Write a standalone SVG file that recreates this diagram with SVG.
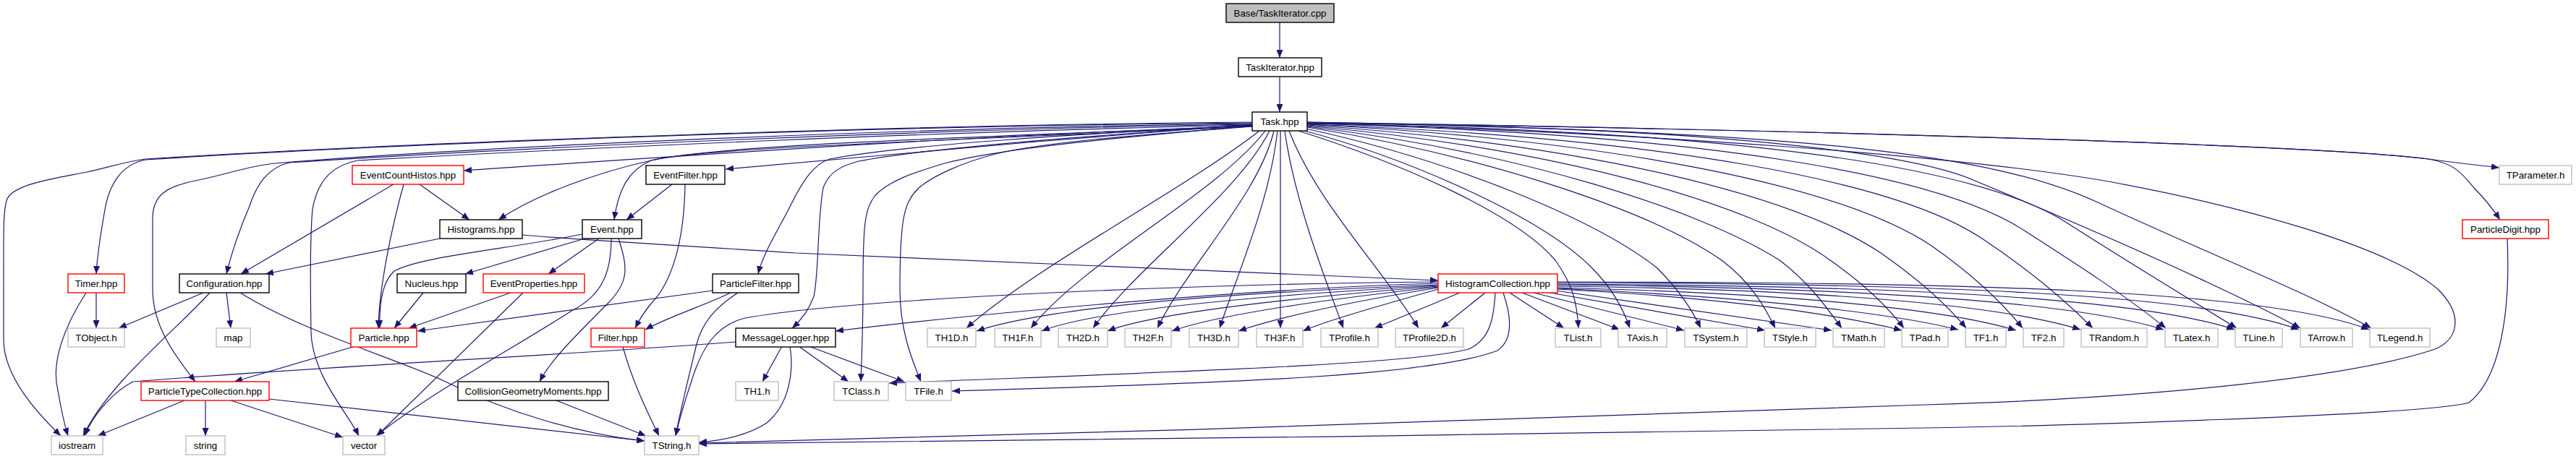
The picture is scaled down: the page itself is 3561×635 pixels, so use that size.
<svg xmlns="http://www.w3.org/2000/svg" width="3561" height="635" viewBox="0 0 3561 635">
<style>
text{font-family:"Liberation Sans",Arial,Helvetica,sans-serif;font-size:13.3px;fill:#000;text-anchor:middle}
rect{fill:#fff;stroke-width:1.4}
.k rect{stroke:#000}
.r rect{stroke:#ff0000}
.g rect{stroke:#bfbfbf}
.root rect{fill:#bfbfbf;stroke:#000}
#edges path{fill:none;stroke:#191970;stroke-width:1.2;marker-end:url(#ah)}
</style>
<defs>
<marker id="ah" markerWidth="11" markerHeight="9" refX="11" refY="4.5" orient="auto" markerUnits="userSpaceOnUse"><path d="M0,0 L11,4.5 L0,9 z" fill="#191970" stroke="none"/></marker>
</defs>
<rect x="0" y="0" width="3561" height="635" style="fill:#fff;stroke:none"/>
<g id="edges">
<path d="M1769,31 L1769,80"/>
<path d="M1769,106 L1769,155"/>
<!-- Task to left -->
<path d="M1731,169 C1300,172 600,195 201,220 C170,224 150,232 120,238 C70,248 20,255 10,275 C4,290 5,320 5,400 L5,470 C5,520 50,570 84,603"/>
<path d="M1731,170 C1300,173 600,195 201,221 C165,228 150,260 145,290 C138,330 134,360 133,379"/>
<path d="M1731,171 C1300,176 700,200 380,226 C340,230 320,240 270,250 C230,258 212,270 211,300 L211,400 C211,450 240,490 270,528"/>
<path d="M1731,172 C1300,178 700,205 400,225 C370,232 355,255 345,285 C330,320 320,350 313,379"/>
<path d="M1731,173 C1300,182 800,205 494,222 C470,227 440,240 432,290 C428,330 429,400 430,460 C432,520 480,570 496,603"/>
<path d="M1731,174 C1300,190 1000,212 641,236"/>
<path d="M1731,174 C1300,192 1000,200 900,222 C820,240 740,270 689,304"/>
<path d="M1731,175 C1300,195 960,205 900,222 C870,235 855,260 849,304"/>
<path d="M1731,172 C1500,190 1200,215 1003,234"/>
<path d="M1731,173 C1500,185 1250,200 1147,220 C1125,227 1110,250 1095,280 C1075,320 1055,350 1048,379"/>
<path d="M1731,173 C1500,188 1280,205 1187,223 C1160,230 1145,240 1138,260 C1130,300 1132,380 1125,410 C1118,430 1105,445 1095,454"/>
<path d="M1731,174 C1550,190 1380,205 1302,227 C1260,240 1230,250 1210,270 C1195,290 1193,310 1193,400 C1193,450 1191,500 1190,528"/>
<path d="M1731,175 C1600,185 1450,195 1376,213 C1330,225 1290,243 1270,260 C1250,280 1244,300 1244,400 C1244,460 1262,500 1273,528"/>
<!-- Task downward -->
<path d="M1741,181 C1640,260 1430,370 1336,454"/>
<path d="M1749,181 C1680,270 1500,360 1425,454"/>
<path d="M1755,181 C1710,270 1570,370 1511,454"/>
<path d="M1761,181 C1740,270 1640,370 1600,454"/>
<path d="M1766,181 C1755,280 1710,380 1686,454"/>
<path d="M1770,181 L1770,454"/>
<path d="M1776,181 C1790,280 1830,380 1857,454"/>
<path d="M1782,181 C1820,280 1910,370 1961,454"/>
<!-- Task to right -->
<path d="M1795,181 C1950,230 2100,300 2150,360 C2175,395 2180,420 2182,454"/>
<path d="M1800,180 C1950,220 2130,300 2200,370 C2230,400 2245,430 2253,454"/>
<path d="M1805,178 C2000,220 2200,300 2290,370 C2320,400 2340,430 2351,454"/>
<path d="M1807,176 C2050,215 2280,290 2380,360 C2420,390 2440,425 2454,454"/>
<path d="M1807,175 C2100,210 2350,290 2460,360 C2500,390 2525,425 2546,454"/>
<path d="M1807,174 C2150,205 2420,280 2530,360 C2580,395 2610,425 2632,454"/>
<path d="M1807,173 C2200,200 2480,270 2600,350 C2650,385 2690,420 2718,454"/>
<path d="M1807,172 C2250,195 2550,260 2670,340 C2720,375 2765,415 2796,454"/>
<path d="M1807,172 C2300,190 2620,250 2740,330 C2800,370 2850,410 2893,454"/>
<path d="M1807,171 C2350,185 2680,240 2800,320 C2870,365 2940,410 2994,454"/>
<path d="M1807,171 C2400,180 2740,230 2860,310 C2930,355 3020,410 3092,454"/>
<path d="M1807,170 C2400,176 2650,215 2730,250 C2850,300 3060,390 3180,454"/>
<path d="M1807,170 C2500,180 2760,215 2900,280 C3050,350 3180,400 3278,454"/>
<path d="M1807,170 C2300,185 2700,215 2909,250 C3100,285 3300,340 3370,400 C3410,440 3395,475 3360,485 C3250,520 3000,550 2661,560 C2300,575 1500,600 966,613"/>
<path d="M1807,169 C2500,180 3200,200 3357,220 C3400,226 3430,229 3455,232"/>
<path d="M1807,169 C2500,180 3200,200 3357,220 C3390,226 3400,235 3420,260 C3440,280 3450,295 3456,304"/>
<!-- EventCountHistos -->
<path d="M544,255 L333,379"/>
<path d="M558,255 C540,320 524,400 523,454"/>
<path d="M580,255 L649,304"/>
<!-- Histograms -->
<path d="M608,330 L367,379"/>
<path d="M722,325 C800,332 900,337 1100,350 C1500,368 1800,380 1988,388"/>
<!-- Event -->
<path d="M805,324 C700,345 580,355 545,375 C528,390 524,420 525,454"/>
<path d="M805,331 L643,379"/>
<path d="M828,330 L758,379"/>
<path d="M845,330 C845,380 830,410 790,430 C730,470 600,540 520,603"/>
<path d="M855,330 C868,370 870,390 840,420 C790,470 760,500 746,528"/>
<!-- EventFilter -->
<path d="M929,255 L866,304"/>
<path d="M947,255 C946,330 930,390 900,420 C890,432 884,442 878,454"/>
<!-- ParticleFilter -->
<path d="M1010,405 C980,420 920,440 892,456"/>
<path d="M985,402 L577,458"/>
<path d="M1020,405 C990,425 970,445 962,480 C950,530 940,570 934,603"/>
<!-- Filter -->
<path d="M861,480 C875,530 895,570 911,603"/>
<!-- Nucleus, EventProperties -->
<path d="M585,405 L545,454"/>
<path d="M706,405 L565,454"/>
<path d="M723,405 L521,603"/>
<!-- Particle -->
<path d="M491,479 L324,528"/>
<!-- Configuration -->
<path d="M281,405 L164,454"/>
<path d="M290,405 C240,460 150,530 115,603"/>
<path d="M313,405 L319,454"/>
<path d="M332,405 C420,460 560,500 620,530 C700,570 800,600 891,610"/>
<!-- Timer -->
<path d="M119,405 C90,450 70,500 80,540 C85,570 90,590 94,603"/>
<path d="M133,405 L133,454"/>
<!-- ParticleTypeCollection -->
<path d="M255,554 L135,603"/>
<path d="M284,554 L284,603"/>
<path d="M319,554 L474,605"/>
<path d="M372,552 L891,610"/>
<!-- CollisionGeometryMoments -->
<path d="M769,554 L893,603"/>
<!-- MessageLogger -->
<path d="M1017,473 C800,490 400,510 184,528 C160,540 130,570 117,603"/>
<path d="M1081,479 L1054,528"/>
<path d="M1104,479 L1173,528"/>
<path d="M1118,479 L1250,528"/>
<path d="M1092,479 C1098,517 1090,560 1060,585 C1030,605 990,610 966,612"/>
<!-- HistogramCollection -->
<path d="M1988,392 C1700,400 1300,440 1155,458"/>
<path d="M1988,394 C1700,405 1450,425 1350,458"/>
<path d="M1988,395 C1720,410 1510,430 1440,458"/>
<path d="M1988,396 C1750,415 1590,435 1531,458"/>
<path d="M1988,397 C1780,420 1670,440 1620,458"/>
<path d="M1988,398 C1820,425 1750,445 1712,458"/>
<path d="M1988,400 C1900,425 1830,445 1801,458"/>
<path d="M1988,390 C1700,392 1200,410 1030,440 C990,450 970,480 955,530 C945,560 938,585 934,603"/>
<path d="M2018,405 L1900,454"/>
<path d="M2053,405 L1992,454"/>
<path d="M2067,405 C2065,440 2060,470 2030,483 C1950,505 1600,515 1229,530"/>
<path d="M2078,405 C2090,440 2092,470 2070,485 C1980,520 1700,530 1316,541"/>
<path d="M2087,405 L2162,454"/>
<path d="M2104,405 L2239,456"/>
<path d="M2120,405 L2328,457"/>
<path d="M2137,404 L2440,457"/>
<path d="M2150,402 L2532,457"/>
<path d="M2153,400 C2350,410 2520,430 2629,457"/>
<path d="M2153,399 C2400,410 2600,430 2707,456"/>
<path d="M2153,398 C2450,405 2680,425 2787,457"/>
<path d="M2153,396 C2500,400 2760,420 2876,456"/>
<path d="M2153,394 C2550,398 2860,415 2991,456"/>
<path d="M2153,393 C2600,395 2950,410 3089,456"/>
<path d="M2153,391 C2650,392 3040,405 3178,456"/>
<path d="M2153,390 C2700,390 3130,400 3275,456"/>
<!-- ParticleDigit -->
<path d="M3466,330 C3470,420 3460,520 3413,557 C3350,575 2800,590 2661,592 C2200,600 1400,610 966,614"/>
</g>
<g id="n_root" class="root"><rect x="1695" y="5" width="149" height="26"/><text x="1769.5" y="23">Base/TaskIterator.cpp</text></g>
<g id="n_taskiterator" class="k"><rect x="1712" y="80" width="115" height="26"/><text x="1769.5" y="98">TaskIterator.hpp</text></g>
<g id="n_task" class="k"><rect x="1731" y="155" width="76" height="26"/><text x="1769" y="173">Task.hpp</text></g>
<g id="n_eventcounthistos" class="r"><rect x="487" y="229" width="154" height="26"/><text x="564" y="247">EventCountHistos.hpp</text></g>
<g id="n_eventfilter" class="k"><rect x="893" y="229" width="109" height="26"/><text x="947.5" y="247">EventFilter.hpp</text></g>
<g id="n_tparameter" class="g"><rect x="3455" y="229" width="100" height="26"/><text x="3505" y="247">TParameter.h</text></g>
<g id="n_histograms" class="k"><rect x="608" y="304" width="114" height="26"/><text x="665" y="322">Histograms.hpp</text></g>
<g id="n_event" class="k"><rect x="805" y="304" width="82" height="26"/><text x="846" y="322">Event.hpp</text></g>
<g id="n_particledigit" class="r"><rect x="3404" y="304" width="119" height="26"/><text x="3463.5" y="322">ParticleDigit.hpp</text></g>
<g id="n_timer" class="r"><rect x="94" y="379" width="78" height="26"/><text x="133" y="397">Timer.hpp</text></g>
<g id="n_configuration" class="k"><rect x="248" y="379" width="124" height="26"/><text x="310" y="397">Configuration.hpp</text></g>
<g id="n_nucleus" class="k"><rect x="549" y="379" width="95" height="26"/><text x="596.5" y="397">Nucleus.hpp</text></g>
<g id="n_eventproperties" class="r"><rect x="668" y="379" width="140" height="26"/><text x="738" y="397">EventProperties.hpp</text></g>
<g id="n_particlefilter" class="k"><rect x="985" y="379" width="119" height="26"/><text x="1044.5" y="397">ParticleFilter.hpp</text></g>
<g id="n_histogramcollection" class="r"><rect x="1988" y="379" width="165" height="26"/><text x="2070.5" y="397">HistogramCollection.hpp</text></g>
<g id="n_tobject" class="g"><rect x="94" y="454" width="78" height="26"/><text x="133" y="472">TObject.h</text></g>
<g id="n_map" class="g"><rect x="299" y="454" width="47" height="26"/><text x="322.5" y="472">map</text></g>
<g id="n_particle" class="r"><rect x="485" y="454" width="91" height="26"/><text x="530.5" y="472">Particle.hpp</text></g>
<g id="n_filter" class="r"><rect x="817" y="454" width="74" height="26"/><text x="854" y="472">Filter.hpp</text></g>
<g id="n_messagelogger" class="k"><rect x="1017" y="454" width="138" height="26"/><text x="1086" y="472">MessageLogger.hpp</text></g>
<g id="n_th1d" class="g"><rect x="1282" y="454" width="67" height="26"/><text x="1315.5" y="472">TH1D.h</text></g>
<g id="n_th1f" class="g"><rect x="1375" y="454" width="64" height="26"/><text x="1407" y="472">TH1F.h</text></g>
<g id="n_th2d" class="g"><rect x="1463" y="454" width="68" height="26"/><text x="1497" y="472">TH2D.h</text></g>
<g id="n_th2f" class="g"><rect x="1555" y="454" width="64" height="26"/><text x="1587" y="472">TH2F.h</text></g>
<g id="n_th3d" class="g"><rect x="1644" y="454" width="68" height="26"/><text x="1678" y="472">TH3D.h</text></g>
<g id="n_th3f" class="g"><rect x="1737" y="454" width="64" height="26"/><text x="1769" y="472">TH3F.h</text></g>
<g id="n_tprofile" class="g"><rect x="1826" y="454" width="79" height="26"/><text x="1865.5" y="472">TProfile.h</text></g>
<g id="n_tprofile2d" class="g"><rect x="1929" y="454" width="94" height="26"/><text x="1976" y="472">TProfile2D.h</text></g>
<g id="n_tlist" class="g"><rect x="2150" y="454" width="63" height="26"/><text x="2181.5" y="472">TList.h</text></g>
<g id="n_taxis" class="g"><rect x="2237" y="454" width="67" height="26"/><text x="2270.5" y="472">TAxis.h</text></g>
<g id="n_tsystem" class="g"><rect x="2329" y="454" width="86" height="26"/><text x="2372" y="472">TSystem.h</text></g>
<g id="n_tstyle" class="g"><rect x="2439" y="454" width="71" height="26"/><text x="2474.5" y="472">TStyle.h</text></g>
<g id="n_tmath" class="g"><rect x="2534" y="454" width="71" height="26"/><text x="2569.5" y="472">TMath.h</text></g>
<g id="n_tpad" class="g"><rect x="2629" y="454" width="64" height="26"/><text x="2661" y="472">TPad.h</text></g>
<g id="n_tf1" class="g"><rect x="2717" y="454" width="56" height="26"/><text x="2745" y="472">TF1.h</text></g>
<g id="n_tf2" class="g"><rect x="2797" y="454" width="56" height="26"/><text x="2825" y="472">TF2.h</text></g>
<g id="n_trandom" class="g"><rect x="2877" y="454" width="91" height="26"/><text x="2922.5" y="472">TRandom.h</text></g>
<g id="n_tlatex" class="g"><rect x="2993" y="454" width="73" height="26"/><text x="3029.5" y="472">TLatex.h</text></g>
<g id="n_tline" class="g"><rect x="3090" y="454" width="65" height="26"/><text x="3122.5" y="472">TLine.h</text></g>
<g id="n_tarrow" class="g"><rect x="3180" y="454" width="72" height="26"/><text x="3216" y="472">TArrow.h</text></g>
<g id="n_tlegend" class="g"><rect x="3276" y="454" width="83" height="26"/><text x="3317.5" y="472">TLegend.h</text></g>
<g id="n_particletypecollection" class="r"><rect x="195" y="528" width="177" height="26"/><text x="283.5" y="546">ParticleTypeCollection.hpp</text></g>
<g id="n_collisiongeometrymoments" class="k"><rect x="633" y="528" width="208" height="26"/><text x="737" y="546">CollisionGeometryMoments.hpp</text></g>
<g id="n_th1" class="g"><rect x="1017" y="528" width="59" height="26"/><text x="1046.5" y="546">TH1.h</text></g>
<g id="n_tclass" class="g"><rect x="1153" y="528" width="75" height="26"/><text x="1190.5" y="546">TClass.h</text></g>
<g id="n_tfile" class="g"><rect x="1252" y="528" width="63" height="26"/><text x="1283.5" y="546">TFile.h</text></g>
<g id="n_iostream" class="g"><rect x="71" y="603" width="71" height="26"/><text x="106.5" y="621">iostream</text></g>
<g id="n_string" class="g"><rect x="257" y="603" width="54" height="26"/><text x="284" y="621">string</text></g>
<g id="n_vector" class="g"><rect x="474" y="603" width="58" height="26"/><text x="503" y="621">vector</text></g>
<g id="n_tstring" class="g"><rect x="891" y="603" width="75" height="26"/><text x="928.5" y="621">TString.h</text></g>
</svg>
